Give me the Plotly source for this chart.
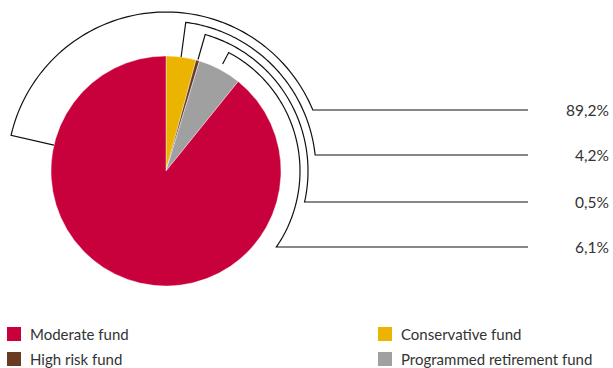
import math
import plotly.graph_objects as go

# ---- data ----
categories = ["Conservative fund", "High risk fund", "Programmed retirement fund", "Moderate fund"]
values = [4.2, 0.5, 6.1, 89.2]
colors = ["#EBB400", "#6B3A22", "#A0A0A0", "#C8003C"]
label_order = ["Moderate fund", "Conservative fund", "High risk fund", "Programmed retirement fund"]
label_texts = ["89,2%", "4,2%", "0,5%", "6,1%"]

W, H = 613, 368
cx, cy, R = 166, 171, 115

def px(x, y):
    return x / W, 1 - y / H

fig = go.Figure()
fig.add_trace(go.Pie(
    labels=categories, values=values, sort=False, direction="clockwise", rotation=0,
    marker=dict(colors=colors, line=dict(color="white", width=0.4)),
    textinfo="none", hoverinfo="label+percent", showlegend=False,
    domain=dict(x=[(cx - R) / W, (cx + R) / W], y=[1 - (cy + R) / H, 1 - (cy - R) / H]),
))

# slice mid angles (clockwise from north, degrees)
total = sum(values)
mid = {}
acc = 0
for c, v in zip(categories, values):
    mid[c] = (acc + v / 2) / total * 360
    acc += v
start_angle = {"Moderate fund": -77, "Conservative fund": mid["Conservative fund"],
               "High risk fund": mid["High risk fund"],
               "Programmed retirement fund": mid["Programmed retirement fund"]}
r_in = [115, 115, 116, 121]
r_arc = [159, 150, 142, 134]
label_y = [110, 155, 202, 247]
line_end_x = 528

def pt(r, deg):
    a = math.radians(deg)
    return cx + r * math.sin(a), cy - r * math.cos(a)

shapes = []
annotations = []
for i, name in enumerate(label_order):
    th0 = start_angle[name]
    ra = r_arc[i]
    ly = label_y[i]
    phi = math.degrees(math.acos((cy - ly) / ra))
    pts = [pt(r_in[i], th0), pt(ra, th0)]
    n = 80
    for k in range(1, n + 1):
        pts.append(pt(ra, th0 + (phi - th0) * k / n))
    pts.append((line_end_x, ly))
    path = ""
    for j, (x, y) in enumerate(pts):
        X, Y = px(x, y)
        path += ("M" if j == 0 else "L") + f"{X:.5f},{Y:.5f} "
    shapes.append(dict(type="path", path=path.strip(), xref="paper", yref="paper",
                       line=dict(color="#111111", width=1.2)))
    X, Y = px(611, ly)
    annotations.append(dict(x=X, y=Y, xref="paper", yref="paper", text=label_texts[i],
                            showarrow=False, xanchor="right", yanchor="middle",
                            font=dict(family="Lato", size=15.5, color="#333333")))

# manual legend
legend_pos = {"Moderate fund": (7, 334), "Conservative fund": (378, 334),
              "High risk fund": (7, 359), "Programmed retirement fund": (378, 359)}
for c, col in zip(categories, colors):
    x0, yc = legend_pos[c]
    X0, Y0 = px(x0, yc + 7)
    X1, Y1 = px(x0 + 14, yc - 7)
    shapes.append(dict(type="rect", x0=X0, y0=Y0, x1=X1, y1=Y1, xref="paper", yref="paper",
                       fillcolor=col, line=dict(width=0)))
    X, Y = px(x0 + 21, yc)
    annotations.append(dict(x=X, y=Y, xref="paper", yref="paper", text=c, showarrow=False,
                            xanchor="left", yanchor="middle",
                            font=dict(family="Lato", size=15, color="#333333")))

fig.update_layout(width=W, height=H, margin=dict(l=0, r=0, t=0, b=0),
                  paper_bgcolor="white", plot_bgcolor="white",
                  shapes=shapes, annotations=annotations)
fig.write_html("out.html", config={"displayModeBar": False},
               post_script="document.body.style.margin='0px';document.body.style.overflow='hidden';")
